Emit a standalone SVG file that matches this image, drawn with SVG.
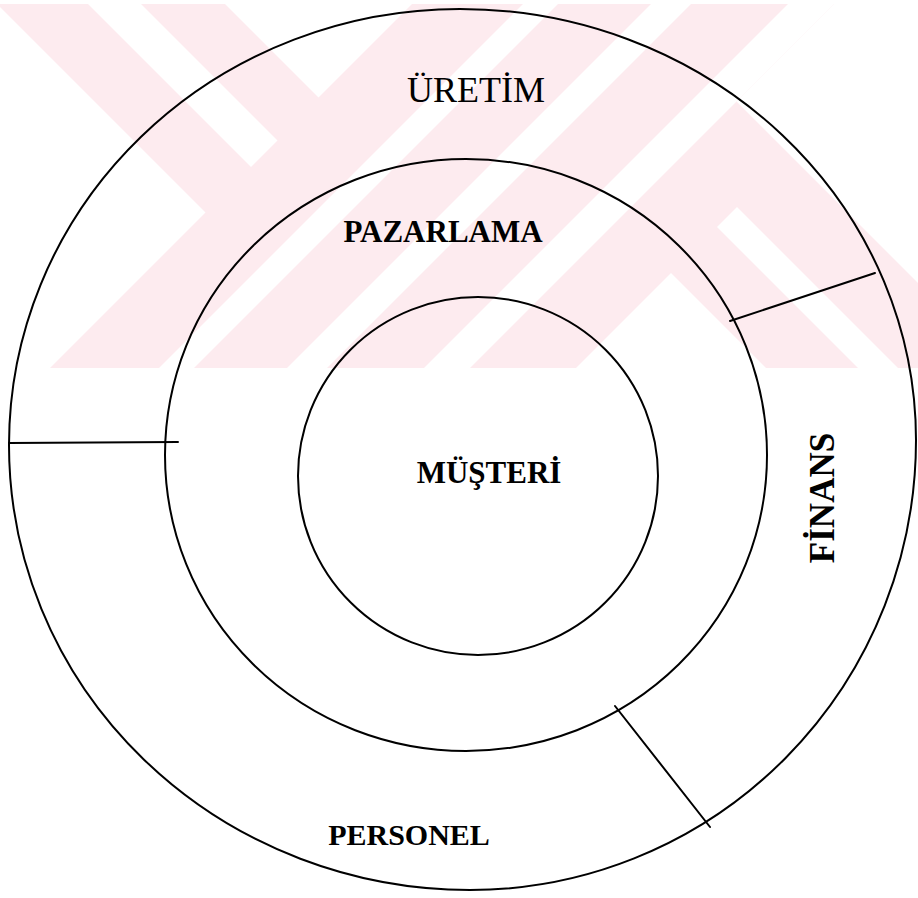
<svg xmlns="http://www.w3.org/2000/svg" width="918" height="898" viewBox="0 0 918 898">
  <style>
    .wm { fill: #fdebef; }
    .bg { fill: #ffffff; }
    .ring { fill: none; stroke: #000; stroke-width: 2; }
    .div { stroke: #000; stroke-width: 2; fill: none; stroke-linecap: round; }
    .lbl { font-family: "Liberation Serif", "Times New Roman", serif; fill: #000; text-anchor: middle; }
    .b { font-weight: bold; }
  </style>
  <rect width="918" height="898" fill="#fff"/>
  <g id="watermark">
    <rect class="wm" x="0" y="4" width="918" height="364"/>
    <polygon class="bg" points="-10,-3 205.5,212.5 -10,428"/>
    <polygon class="bg" points="84,0 137,0 277.5,140.5 251,167"/>
    <polygon class="bg" points="221,0 416,0 318.5,97.5"/>
    <polygon class="bg" points="527,0 562,0 194,368 159,368"/>
    <polygon class="bg" points="655,0 695,0 327,368 287,368"/>
    <polygon class="bg" points="792,0 838,0 470,368 424,368"/>
    <polygon class="bg" points="838,0 930,0 930,295 736.5,101.5"/>
    <polygon class="bg" points="671,273 766,368 576,368"/>
    <polygon class="bg" points="717,227 737,207 898,368 858,368"/>
    <rect class="bg" x="0" y="368" width="918" height="10"/>
  </g>
  <g id="uretim">
    <path class="ring" d="M 9,445 A 451,436 0 0 1 460,9 A 456,431 0 0 1 916,440 A 446,450 0 0 1 470,890 A 461,445 0 0 1 9,445 Z"/>
    <text class="lbl" x="476" y="102" font-size="36">ÜRETİM</text>
  </g>
  <g id="pazarlama">
    <ellipse class="ring" cx="466" cy="455" rx="301" ry="296"/>
    <text class="lbl b" x="443" y="242" font-size="31">PAZARLAMA</text>
  </g>
  <g id="musteri">
    <ellipse class="ring" cx="478" cy="476" rx="180" ry="179"/>
    <text class="lbl b" x="489" y="483" font-size="31">MÜŞTERİ</text>
  </g>
  <g id="finans">
    <text class="lbl b" font-size="35" transform="translate(834,498) rotate(-90)">FİNANS</text>
  </g>
  <g id="personel">
    <text class="lbl b" x="409" y="845" font-size="30">PERSONEL</text>
  </g>
  <g id="connectors">
    <line class="div" x1="9" y1="443" x2="178" y2="442"/>
    <line class="div" x1="730" y1="321" x2="875" y2="273"/>
    <line class="div" x1="615" y1="706" x2="710" y2="827"/>
  </g>
</svg>
